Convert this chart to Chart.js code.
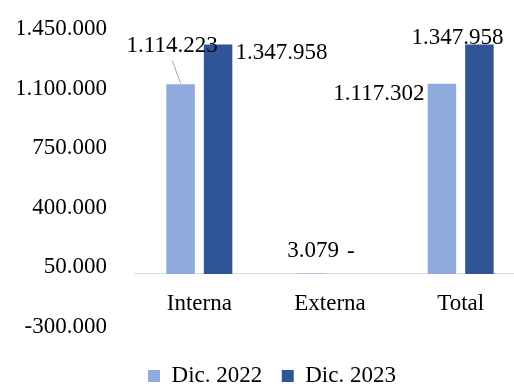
<!DOCTYPE html>
<html>
<head>
<meta charset="utf-8">
<script src="https://cdn.jsdelivr.net/npm/chart.js@4.4.1/dist/chart.umd.min.js"></script>
<style>
  html, body { margin: 0; padding: 0; background: #fff; }
  #wrap { width: 514px; height: 386px; overflow: hidden; position: relative; }
  #chart { position: absolute; left: 0; top: 0; }
</style>
</head>
<body>
<div id="wrap"><canvas id="chart" width="530" height="400"></canvas></div>
<script>
const categories = ["Interna", "Externa", "Total"];
const seriesNames = ["Dic. 2022", "Dic. 2023"];
const dic2022 = [1114223, 3079, 1117302];
const dic2023 = [1347958, 0, 1347958];
const yTicks = [-300000, 50000, 400000, 750000, 1100000, 1450000];

const FONT = { family: "'Liberation Serif', 'Times New Roman', serif", size: 23 };

// 1.234.567 style, zero shown as a dash
function fmt(v) {
    if (v === 0) return "-";
    const s = Math.abs(v).toString().replace(/\B(?=(\d{3})+(?!\d))/g, ".");
    return (v < 0 ? "-" : "") + s;
}

// where each value label sits relative to the top of its bar
const labelPlacement = [
    [
        { dx: -8.5, dy: -32, align: "center", leader: true },
        { dx: 2, dy: -16, align: "center" },
        { dx: -17.5, dy: 16, align: "right" }
    ],
    [
        { dx: 17.5, dy: 15, align: "left" },
        { dx: 2, dy: -16, align: "center" },
        { dx: -22, dy: 0, align: "center" }
    ]
];

const valueLabels = {
    id: "valueLabels",
    afterDatasetsDraw(chart) {
        const ctx = chart.ctx;
        ctx.save();
        ctx.font = FONT.size + "px " + FONT.family;
        ctx.fillStyle = "#000";
        ctx.textBaseline = "alphabetic";
        chart.data.datasets.forEach((ds, di) => {
            const meta = chart.getDatasetMeta(di);
            meta.data.forEach((bar, i) => {
                const p = labelPlacement[di][i];
                if (p.leader) {
                    ctx.strokeStyle = "#A6A6A6";
                    ctx.lineWidth = 1;
                    ctx.beginPath();
                    ctx.moveTo(bar.x - 8.3, bar.y - 23.7);
                    ctx.lineTo(bar.x, bar.y - 0.7);
                    ctx.stroke();
                }
                ctx.textAlign = p.align;
                ctx.fillText(fmt(ds.data[i]), bar.x + p.dx, bar.y + p.dy);
            });
        });
        ctx.restore();
    }
};

new Chart(document.getElementById("chart"), {
    type: "bar",
    data: {
        labels: categories,
        datasets: [
            { label: seriesNames[0], data: dic2022, backgroundColor: "#8FAADC" },
            { label: seriesNames[1], data: dic2023, backgroundColor: "#2F5597" }
        ]
    },
    options: {
        responsive: false,
        animation: false,
        categoryPercentage: 0.574,
        barPercentage: 0.76,
        layout: { padding: { left: 18, right: 4, top: 27, bottom: 2.5 } },
        scales: {
            x: {
                position: { y: 0 },
                grid: { display: false, drawTicks: false },
                border: { color: "#D9D9D9", width: 1 },
                ticks: { font: FONT, color: "#000", padding: 16 }
            },
            y: {
                min: yTicks[0],
                max: yTicks[yTicks.length - 1],
                grid: { display: false, drawTicks: false },
                border: { display: false },
                ticks: {
                    stepSize: yTicks[1] - yTicks[0],
                    font: FONT,
                    color: "#000",
                    padding: 27,
                    labelOffset: 2,
                    callback: (v) => fmt(v)
                },
                afterFit: (s) => {
                    s.width = 116;
                    s.paddingTop = 0;
                    s.paddingBottom = 0;
                }
            }
        },
        plugins: {
            tooltip: { enabled: false },
            legend: {
                position: "bottom",
                title: { display: true, text: "", font: { size: 1 }, padding: { top: 18.8, bottom: 0 } },
                labels: { boxWidth: 12, boxHeight: 12, padding: 19.5, font: FONT, color: "#000" }
            }
        }
    },
    plugins: [valueLabels]
});
</script>
</body>
</html>
